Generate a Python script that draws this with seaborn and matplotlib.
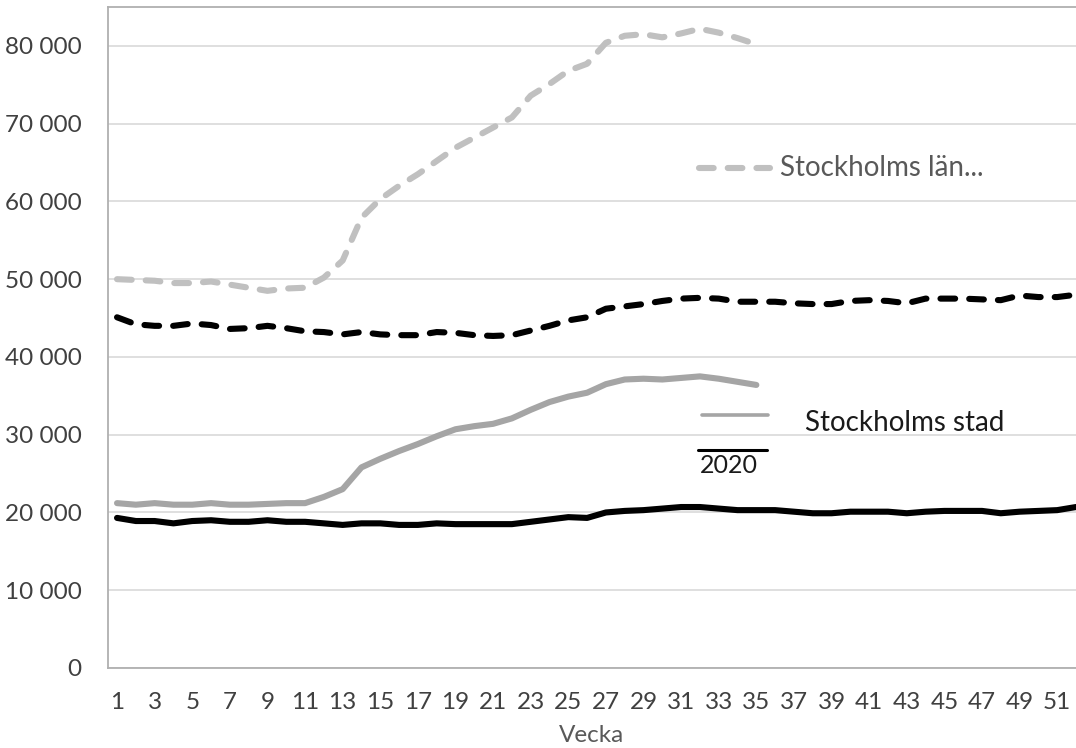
import matplotlib
matplotlib.use("Agg")
import matplotlib.pyplot as plt
from matplotlib.lines import Line2D
from matplotlib.ticker import FuncFormatter
import seaborn as sns
import pandas as pd

# Weekly values
weeks_2021 = list(range(1, 36))
weeks_2020 = list(range(1, 53))

lan_2021 = [50000, 49900, 49800, 49500, 49500, 49700, 49300, 48900, 48500, 48800,
            48900, 50200, 52400, 57900, 60300, 62000, 63500, 65200, 66900, 68200,
            69500, 70800, 73600, 75100, 76800, 77700, 80400, 81300, 81500, 81100,
            81600, 82200, 81700, 81000, 80200]

lan_2020 = [45100, 44200, 44000, 44000, 44300, 44100, 43600, 43700, 44000, 43700,
            43300, 43200, 42900, 43200, 42900, 42800, 42800, 43200, 43100, 42800,
            42700, 42800, 43400, 44000, 44700, 45100, 46200, 46500, 46800, 47200,
            47500, 47600, 47500, 47100, 47100, 47100, 46900, 46800, 46800, 47200,
            47300, 47200, 46900, 47500, 47500, 47500, 47400, 47300, 47900, 47700,
            47700, 48000]

stad_2021 = [21200, 21000, 21200, 21000, 21000, 21200, 21000, 21000, 21100, 21200,
             21200, 22000, 23000, 25800, 26900, 27900, 28800, 29800, 30700, 31100,
             31400, 32100, 33200, 34200, 34900, 35400, 36500, 37100, 37200, 37100,
             37300, 37500, 37200, 36800, 36400]

stad_2020 = [19300, 18900, 18900, 18600, 18900, 19000, 18800, 18800, 19000, 18800,
             18800, 18600, 18400, 18600, 18600, 18400, 18400, 18600, 18500, 18500,
             18500, 18500, 18800, 19100, 19400, 19300, 20000, 20200, 20300, 20500,
             20700, 20700, 20500, 20300, 20300, 20300, 20100, 19900, 19900, 20100,
             20100, 20100, 19900, 20100, 20200, 20200, 20200, 19900, 20100, 20200,
             20300, 20700]

x_ticks = list(range(1, 52, 2))
y_ticks = list(range(0, 80001, 10000))

series = {
    "Stockholms stad 2020": (weeks_2020, stad_2020),
    "Stockholms stad 2021": (weeks_2021, stad_2021),
    "Stockholms län 2020": (weeks_2020, lan_2020),
    "Stockholms län 2021": (weeks_2021, lan_2021),
}
frames = [pd.DataFrame({"Vecka": w, "Antal": v, "Serie": name})
          for name, (w, v) in series.items()]
df = pd.concat(frames, ignore_index=True)

palette = {
    "Stockholms stad 2020": "#000000",
    "Stockholms stad 2021": "#a5a5a5",
    "Stockholms län 2020": "#000000",
    "Stockholms län 2021": "#c0c0c0",
}
dash = (2.4, 2.3)
dashes = {
    "Stockholms stad 2020": "",
    "Stockholms stad 2021": "",
    "Stockholms län 2020": dash,
    "Stockholms län 2021": dash,
}

sns.set_theme(style="white")
plt.rcParams["font.family"] = ["Lato", "DejaVu Sans"]

fig = plt.figure(figsize=(10.76, 7.48), dpi=100)
ax = fig.add_axes([108 / 1076, 1 - 668 / 748, 1 - 108 / 1076, (668 - 7) / 748])

sns.lineplot(data=df, x="Vecka", y="Antal", hue="Serie", style="Serie",
             palette=palette, dashes=dashes, linewidth=4.4, legend=False,
             dash_capstyle="round", solid_capstyle="round", ax=ax)

ax.set_xlim(0.52, 52.0)
ax.set_ylim(0, 85000)
ax.set_xticks(x_ticks)
ax.set_yticks(y_ticks)
ax.yaxis.set_major_formatter(FuncFormatter(lambda v, p: f"{int(v):,}".replace(",", " ")))
ax.tick_params(axis="both", length=0, labelsize=17.5, colors="#404040")
ax.tick_params(axis="y", pad=19)
ax.tick_params(axis="x", pad=17)
ax.grid(axis="y", color="#d9d9d9", linewidth=1.2)
ax.set_axisbelow(True)

ax.set_ylabel("")
ax.set_xlabel("Vecka", fontsize=17.5, color="#595959")
ax.xaxis.set_label_coords(0.5, -0.086)

for side in ["left", "top", "bottom"]:
    ax.spines[side].set_color("#b0b0b0")
    ax.spines[side].set_linewidth(1.3)
ax.spines["right"].set_visible(False)

# Excel-style legend entries placed inside the plot area
W, H = 1076, 748
fig.add_artist(Line2D([699 / W, 770 / W], [1 - 168 / H, 1 - 168 / H], color="#c0c0c0",
                      linewidth=4.4, dashes=dash, dash_capstyle="round"))
fig.text(780 / W, 1 - 168 / H, "Stockholms län...", fontsize=20, color="#595959",
         ha="left", va="center")
fig.add_artist(Line2D([702 / W, 768 / W], [1 - 415 / H, 1 - 415 / H], color="#a5a5a5",
                      linewidth=2.6))
fig.text(805 / W, 1 - 423 / H, "Stockholms stad", fontsize=20, color="#1a1a1a",
         ha="left", va="center")
fig.add_artist(Line2D([698 / W, 767 / W], [1 - 450 / H, 1 - 450 / H], color="#000000",
                      linewidth=2.2))
fig.text(700 / W, 1 - 465 / H, "2020", fontsize=18, color="#1a1a1a",
         ha="left", va="center")

fig.savefig("out.png", dpi=100)
